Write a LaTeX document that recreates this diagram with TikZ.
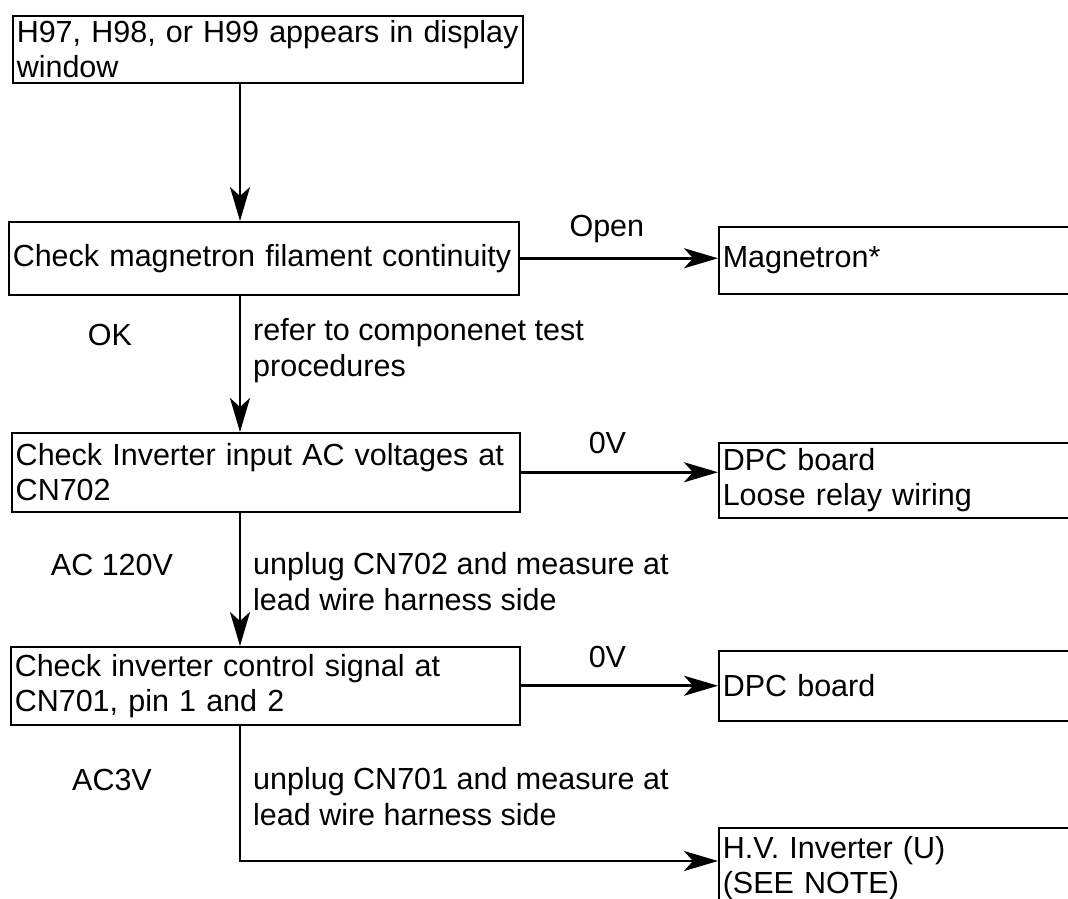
\documentclass[tikz,border=0pt]{standalone}
\usepackage{fontspec}
\setmainfont{Liberation Sans}
\usetikzlibrary{arrows.meta}
\begin{document}
\begin{tikzpicture}[x=1pt, y=-1pt,
    stepbox/.style={draw, line width=1.5pt, anchor=north west, align=left,
        inner xsep=4pt, inner ysep=0pt, font=\fontsize{30.5}{35}\selectfont},
    flow/.style={line width=2.8pt, -{Stealth[length=34pt, width=20pt, inset=9pt]}},
    note/.style={font=\fontsize{30.5}{36}\selectfont, align=left, inner sep=0pt}]
    \path[use as bounding box, clip] (0,0) rectangle (1068,898);

    % left column of checks
    \node[stepbox, text width=502pt, minimum height=67pt] (start) at (12,15) {H97, H98, or H99 appears in display\\window};
    \node[stepbox, text width=502pt, minimum height=73pt] (magcheck) at (8,221) {Check magnetron filament continuity};
    \node[stepbox, text width=500pt, minimum height=79pt] (invinput) at (11,432) {Check Inverter input AC voltages at\\CN702};
    \node[stepbox, text width=501pt, minimum height=78pt] (ctrlsig) at (10,646) {Check inverter control signal at\\CN701, pin 1 and 2};

    % right column of results
    \node[stepbox, text width=360pt, minimum height=67pt] (magnet) at (718,226) {Magnetron*};
    \node[stepbox, text width=360pt, minimum height=75pt] (dpcwire) at (718,442) {DPC board\\Loose relay wiring};
    \node[stepbox, text width=360pt, minimum height=70pt] (dpcboard) at (718,650) {DPC board};
    \node[stepbox, text width=360pt, minimum height=80pt] (hvinv) at (718,827) {H.V. Inverter (U)\\(SEE NOTE)};

    \coordinate (spine) at (240,0);
    \coordinate (bend) at (0,861);

    % main flow
    \draw[flow] (start.south -| spine) -- (magcheck.north -| spine);
    \draw[flow] (magcheck.south -| spine) -- (invinput.north -| spine);
    \draw[flow] (invinput.south -| spine) -- (ctrlsig.north -| spine);
    \draw[flow] (ctrlsig.south -| spine) |- (bend -| hvinv.west);

    % failure branches
    \draw[flow] (magcheck.east) -- (magcheck.east -| magnet.west)
        node[note, pos=0.44, yshift=29pt] (open) {Open};
    \draw[flow] (invinput.east) -- (invinput.east -| dpcwire.west)
        node[note, pos=0.44, yshift=29pt] (zerov1) {0V};
    \draw[flow] (ctrlsig.east) -- (ctrlsig.east -| dpcboard.west)
        node[note, pos=0.44, yshift=29pt] (zerov2) {0V};

    % results and hints
    \node[note] (ok) at (110,335) {OK};
    \node[note] (ac120) at (112,565) {AC 120V};
    \node[note] (ac3) at (112,780) {AC3V};
    \node[note, anchor=west] (refer) at (253,351) {refer to componenet test\\procedures};
    \node[note, anchor=west] (unplug2) at (253,582) {unplug CN702 and measure at\\lead wire harness side};
    \node[note, anchor=west] (unplug1) at (253,797) {unplug CN701 and measure at\\lead wire harness side};
\end{tikzpicture}
\end{document}
